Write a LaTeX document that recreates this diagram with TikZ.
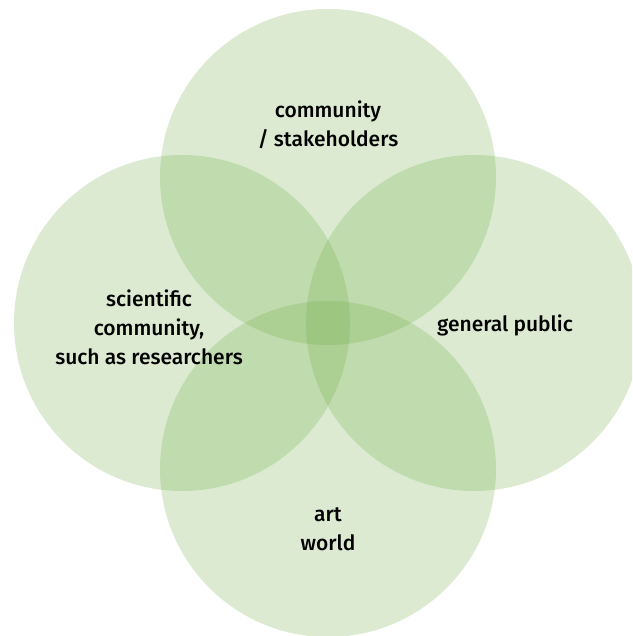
\documentclass[tikz,border=0pt]{standalone}
\usepackage{fontspec}
\setmainfont{Fira Sans}
\newfontfamily\labfont{Fira Sans}[UprightFont=* Medium]
\definecolor{vgreen}{HTML}{70AD47}
\begin{document}
\begin{tikzpicture}[x=1pt,y=1pt,
  venn/.style={fill=vgreen,fill opacity=0.25,draw=none},
  lab/.style={align=center,text=black,font=\labfont\fontsize{21}{29}\selectfont,inner sep=0pt}]
\useasboundingbox (0,0) rectangle (632,636);
\clip (0,0) rectangle (632,636);
\fill[venn] (328,459) circle (168);
\fill[venn] (182,313) circle (168);
\fill[venn] (474,313) circle (168);
\fill[venn] (328,167) circle (168);
\node[lab] (top) at (328,511.5) {community\\/ stakeholders};
\node[lab] (left) at (149,309) {scientific\\community,\\such as researchers};
\node[lab] (right) at (505,311) {general public};
\node[lab] (bottom) at (328,107) {art\\world};
\end{tikzpicture}
\end{document}
